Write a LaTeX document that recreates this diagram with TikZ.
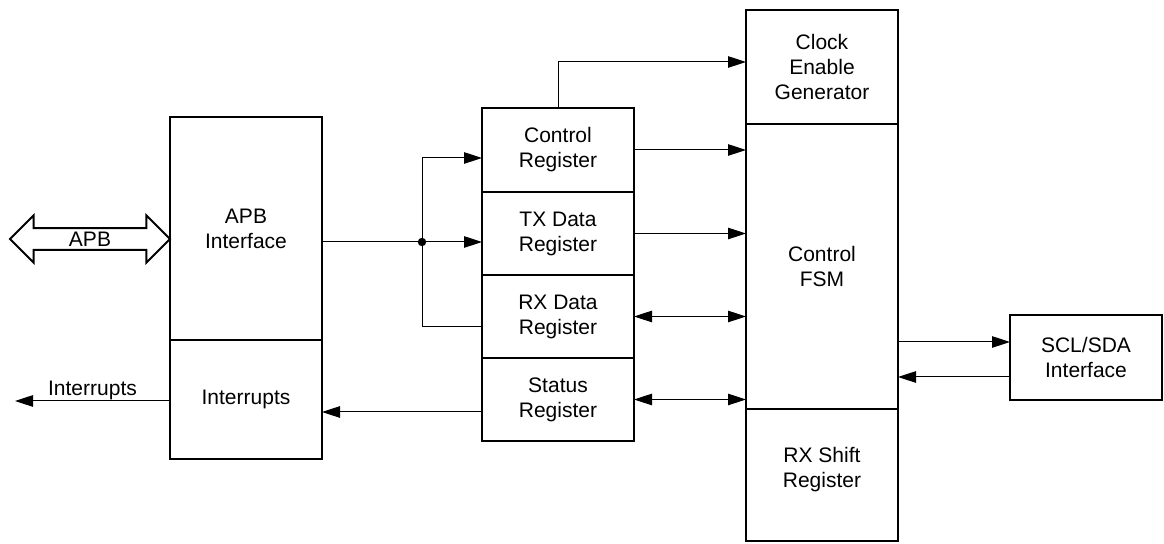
\documentclass[tikz,border=0pt]{standalone}
\usepackage{fontspec}
\setmainfont{Liberation Sans}
\usetikzlibrary{arrows.meta,positioning,calc,shapes.arrows}

\begin{document}
\begin{tikzpicture}[x=0.5pt, y=-0.5pt,
    block/.style={draw, line width=1pt, outer sep=0pt, inner sep=0pt,
        minimum width=76pt, align=center, font=\fontsize{10.5}{12.5}\selectfont},
    conn/.style={line width=0.5pt, -{Triangle[length=9pt,width=5.75pt]}},
    bidir/.style={line width=0.5pt, {Triangle[length=9pt,width=5.75pt]}-{Triangle[length=9pt,width=5.75pt]}},
    wire/.style={line width=0.5pt}]
    \useasboundingbox (0,0) rectangle (1164,544);

    % APB side
    \node[block, minimum height=111.5pt] (apb) at (246,228.5) {APB\\Interface};
    \node[block, minimum height=59.5pt, below=0pt of apb] (irq) {Interrupts};
    \node[draw, line width=1pt, double arrow, double arrow head extend=4.75pt,
        minimum width=23.5pt, minimum height=80pt, inner sep=0pt,
        font=\fontsize{10.5}{12.5}\selectfont] (apbbus) at (90,239) {APB};

    % Registers
    \node[block, minimum height=42pt] (ctrl) at (558,150) {Control\\Register};
    \node[block, minimum height=41.5pt, below=0pt of ctrl] (txd) {TX Data\\Register};
    \node[block, minimum height=41.5pt, below=0pt of txd] (rxd) {RX Data\\Register};
    \node[block, minimum height=41.5pt, below=0pt of rxd] (stat) {Status\\Register};

    % Core column
    \node[block, minimum height=57pt] (clk) at (822,67) {Clock\\Enable\\Generator};
    \node[block, minimum height=142.5pt, below=0pt of clk] (fsm) {Control\\FSM};
    \node[block, minimum height=66pt, text depth=8pt, below=0pt of fsm] (rxs) {RX Shift\\Register};

    % Bus pins
    \node[block, minimum height=42.5pt] (scl) at (1086,357.5) {SCL/SDA\\Interface};

    % Write path
    \coordinate (jn) at (422,242);
    \draw[wire] (apb.east |- jn) -- (jn);
    \draw[conn] (jn) -- (txd.west |- jn);
    \draw[conn] (jn) |- ([yshift=-4pt]ctrl.west);
    \draw[wire] (jn) |- ([yshift=-5.25pt]rxd.west);
    \fill (jn) circle (2.1pt);

    % Interrupts
    \draw[conn] ([yshift=-6.25pt]stat.west) -- ([yshift=-6.25pt]irq.east);
    \coordinate (irqend) at (15,401);
    \draw[conn] (irq.west |- irqend) -- node[above, inner sep=0.5pt,
        font=\fontsize{10.5}{12.5}\selectfont] {Interrupts} (irqend);

    % Registers to core
    \draw[conn] (ctrl.north) |- ([yshift=2.5pt]clk.west);
    \draw[conn] (ctrl.east) -- (ctrl.east -| fsm.west);
    \draw[conn] (txd.east) -- (txd.east -| fsm.west);
    \draw[bidir] (rxd.east) -- (rxd.east -| fsm.west);
    \draw[bidir] (stat.east) -- (stat.east -| fsm.west);

    % Core to pins
    \coordinate (sclin) at ([yshift=7.75pt]scl.west);
    \coordinate (sclout) at ([yshift=-9.75pt]scl.west);
    \draw[conn] (fsm.east |- sclin) -- (sclin);
    \draw[conn] (sclout) -- (fsm.east |- sclout);
\end{tikzpicture}
\end{document}
